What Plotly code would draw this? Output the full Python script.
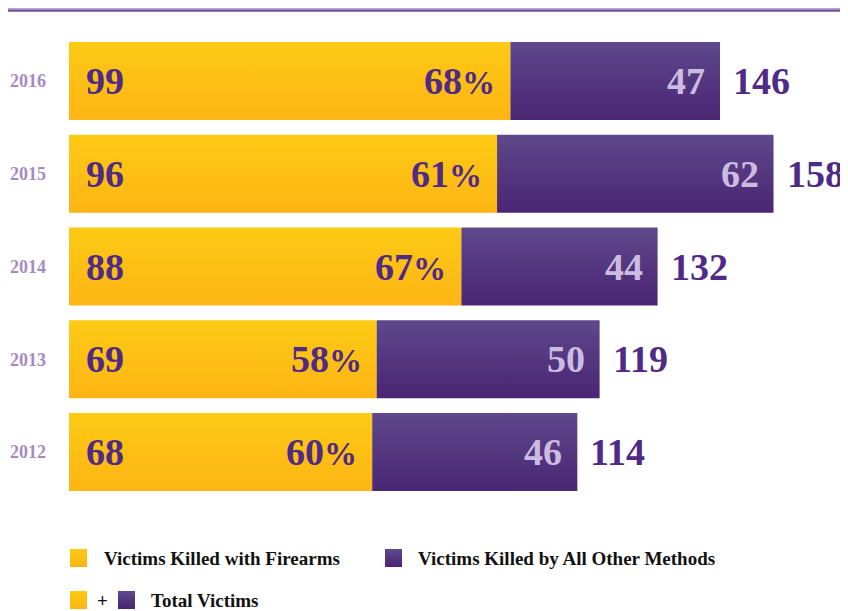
import plotly.graph_objects as go

# ---- data ----
years = ["2012", "2013", "2014", "2015", "2016"]
firearms = [68, 69, 88, 96, 99]
other_methods = [46, 50, 44, 62, 47]
totals = [114, 119, 132, 158, 146]
pct_values = ["60", "58", "67", "61", "68"]

legend_firearms = "Victims Killed with Firearms"
legend_other = "Victims Killed by All Other Methods"
legend_total = "Total Victims"

# ---- style ----
OFF = 8  # page body margin
W, H = 848 - OFF, 611 - OFF
ML, MR, MT = 69 - OFF, 0, 30 - OFF
PW, PH = W - ML - MR, 480
MB = H - MT - PH
GOLD_TOP, GOLD_BOT = "#FDCA14", "#FDB514"
PURP_TOP, PURP_BOT = "#5E488B", "#4A2573"
DARK_PURP = "#4F2A86"
LIGHT_PURP = "#CDBCE2"
YEAR_COL = "#A68BC2"
NUM_FONT = "Liberation Serif"
HALF = 0.42

def px_x(px):
    return (px - OFF - ML) / PW

def px_y(py):
    return (MT + PH - (py - OFF)) / PH

fig = go.Figure()

for i, y in enumerate(years):
    f, o = firearms[i], other_methods[i]
    y0, y1 = i - HALF, i + HALF
    fig.add_trace(go.Scatter(
        x=[0, f, f, 0, 0], y=[y0, y0, y1, y1, y0],
        mode="lines", line=dict(width=0), fill="toself",
        fillgradient=dict(type="vertical", colorscale=[[0, GOLD_BOT], [1, GOLD_TOP]]),
        hoverinfo="skip", showlegend=False))
    fig.add_trace(go.Scatter(
        x=[f, f + o, f + o, f, f], y=[y0, y0, y1, y1, y0],
        mode="lines", line=dict(width=0), fill="toself",
        fillgradient=dict(type="vertical", colorscale=[[0, PURP_BOT], [1, PURP_TOP]]),
        hoverinfo="skip", showlegend=False))
    nf = dict(family=NUM_FONT, size=38, color=DARK_PURP)
    fig.add_annotation(x=0, y=i, text=f"<b>{f}</b>", showarrow=False, xanchor="left",
                       xshift=15, font=nf)
    fig.add_annotation(x=f, y=i,
                       text=f"<b>{pct_values[i]}<span style='font-size:33px'>%</span></b>",
                       showarrow=False, xanchor="right", xshift=-13, font=nf)
    fig.add_annotation(x=f + o, y=i, text=f"<b>{o}</b>", showarrow=False,
                       xanchor="right", xshift=-13,
                       font=dict(family=NUM_FONT, size=38, color=LIGHT_PURP))
    fig.add_annotation(x=f + o, y=i, text=f"<b>{totals[i]}</b>", showarrow=False,
                       xanchor="left", xshift=11, font=nf)

# top rule (at the very top of the figure)
fig.add_shape(type="line", xref="paper", yref="paper", x0=px_x(8), x1=px_x(848),
              y0=px_y(10.5), y1=px_y(10.5), line=dict(color="#6F51A0", width=2.5))
fig.add_shape(type="line", xref="paper", yref="paper", x0=px_x(8), x1=px_x(848),
              y0=px_y(8.6), y1=px_y(8.6), line=dict(color="#B9A6D4", width=1.2))

# legend swatches (thin bands to mimic gradient)
def swatch(x0, y0, top, bot, w=17, h=18, n=18):
    def mix(a, b, t):
        a = [int(a[k:k + 2], 16) for k in (1, 3, 5)]
        b = [int(b[k:k + 2], 16) for k in (1, 3, 5)]
        return "#%02x%02x%02x" % tuple(round(a[j] + (b[j] - a[j]) * t) for j in range(3))
    for k in range(n):
        fig.add_shape(type="rect", xref="paper", yref="paper",
                      x0=px_x(x0), x1=px_x(x0 + w),
                      y0=px_y(y0 + h * k / n), y1=px_y(min(y0 + h, y0 + h * (k + 1) / n + 0.6)),
                      fillcolor=mix(top, bot, k / (n - 1)), line=dict(width=0), layer="above")

lf = dict(family="Liberation Serif", size=19, color="#111111")
swatch(70, 549, GOLD_TOP, GOLD_BOT)
fig.add_annotation(xref="paper", yref="paper", x=px_x(102), y=px_y(558), text=f"<b>{legend_firearms}</b>",
                   showarrow=False, xanchor="left", yanchor="middle", font=lf)
swatch(385, 549, PURP_TOP, PURP_BOT)
fig.add_annotation(xref="paper", yref="paper", x=px_x(416), y=px_y(558), text=f"<b>{legend_other}</b>",
                   showarrow=False, xanchor="left", yanchor="middle", font=lf)
swatch(70, 591, GOLD_TOP, GOLD_BOT)
fig.add_annotation(xref="paper", yref="paper", x=px_x(95), y=px_y(600), text="<b>+</b>",
                   showarrow=False, xanchor="left", yanchor="middle", font=lf)
swatch(118, 591, PURP_TOP, PURP_BOT)
fig.add_annotation(xref="paper", yref="paper", x=px_x(149), y=px_y(600), text=f"<b>{legend_total}</b>",
                   showarrow=False, xanchor="left", yanchor="middle", font=lf)

px_per_unit = 4.459
fig.update_layout(
    width=W, height=H, margin=dict(l=ML, r=MR, t=MT, b=MB),
    paper_bgcolor="white", plot_bgcolor="white", showlegend=False,
    xaxis=dict(range=[0, PW / px_per_unit], visible=False, fixedrange=True),
    yaxis=dict(range=[-0.625, 4.55], tickmode="array", tickvals=list(range(len(years))),
               ticktext=[f"<b>{y}</b>" for y in years], showgrid=False, zeroline=False,
               showline=False, ticks="", ticklabelstandoff=22,
               tickfont=dict(family="Liberation Serif", size=18, color=YEAR_COL)),
)

fig.write_html("out.html")
